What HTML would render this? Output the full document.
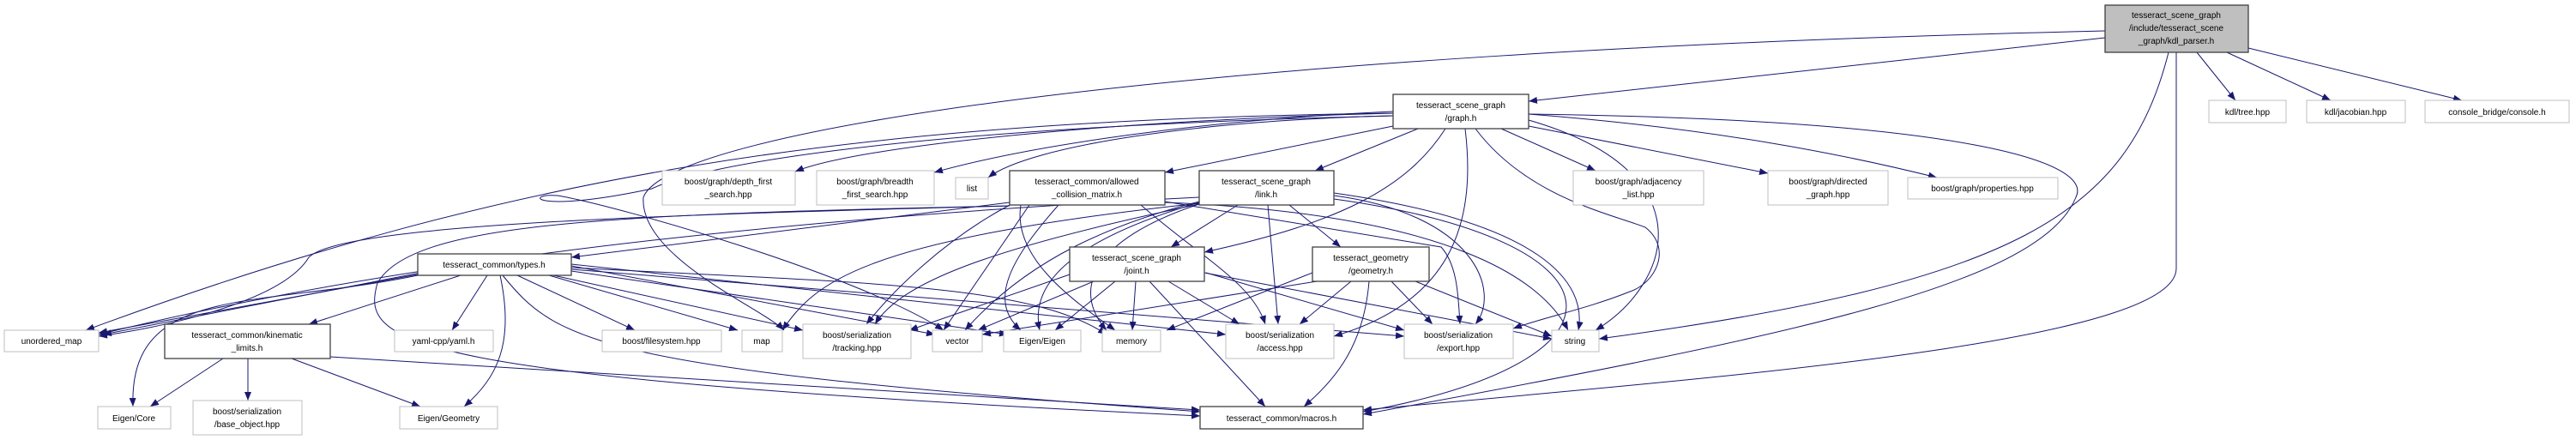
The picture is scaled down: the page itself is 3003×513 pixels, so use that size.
<!DOCTYPE html>
<html><head><meta charset="utf-8"><style>
html,body{margin:0;padding:0;background:#fff}
svg{display:block}
text{font-family:"Liberation Sans",sans-serif;font-size:10px;fill:#000}
.e{fill:none;stroke:#191970;stroke-width:1;marker-end:url(#a)}
.n{fill:#fff;stroke:#404040;stroke-width:1.3}
.x{fill:#fff;stroke:#bfbfbf;stroke-width:1}
</style></head><body>
<svg width="3003" height="513" viewBox="0 0 3003 513" xmlns="http://www.w3.org/2000/svg">
<defs><marker id="a" markerUnits="userSpaceOnUse" markerWidth="10" markerHeight="8" refX="10" refY="4" orient="auto"><path d="M0,0 L10,4 L0,8 Z" fill="#191970"/></marker></defs>
<g>
<path class="e" d="M2454,44 L1782,118"/>
<path class="e" d="M2454,36 C1400,60 780,150 750,230 C745,300 890,360 914,385"/>
<path class="e" d="M2528,61 C2480,250 2350,330 1864,395"/>
<path class="e" d="M2537,61 L2537,313 C2537,400 2000,440 1589,478"/>
<path class="e" d="M2561,61 L2606,117"/>
<path class="e" d="M2596,61 L2717,117"/>
<path class="e" d="M2621,56 L2870,117"/>
<path class="e" d="M1653,150 L1533,199"/>
<path class="e" d="M1624,147 L1358,201"/>
<path class="e" d="M1685,150 C1640,220 1560,260 1404,294"/>
<path class="e" d="M1708,150 C1720,250 1700,350 1555,392"/>
<path class="e" d="M1720,150 C1780,230 1880,250 1918,265 C1950,290 1930,330 1900,340 C1850,360 1800,370 1764,383"/>
<path class="e" d="M1750,150 L1860,199"/>
<path class="e" d="M1782,140 C1990,200 1950,330 1860,385"/>
<path class="e" d="M1782,147 L2061,202"/>
<path class="e" d="M1782,133 C2000,150 2150,180 2258,207"/>
<path class="e" d="M1782,133 C2300,140 2440,190 2420,230 C2380,330 2100,390 1589,483"/>
<path class="e" d="M1624,135 C1400,140 1200,170 1152,207"/>
<path class="e" d="M1624,130 C1400,140 1200,170 1089,201"/>
<path class="e" d="M1624,132 C1300,140 1000,170 927,200"/>
<path class="e" d="M1624,132 C1000,140 600,200 100,385"/>
<path class="e" d="M1624,135 C1000,150 800,200 760,220 C620,250 610,225 650,228 C720,240 1000,320 1100,385"/>
<path class="e" d="M1177,236 L666,300"/>
<path class="e" d="M1177,240 C800,250 400,260 360,300 C330,350 200,380 115,392"/>
<path class="e" d="M1177,240 C700,250 480,260 440,330 C420,400 460,440 1399,485"/>
<path class="e" d="M1200,239 L1100,385"/>
<path class="e" d="M1234,239 C1180,300 1150,350 1190,385"/>
<path class="e" d="M1190,239 C1180,300 1250,350 1300,385"/>
<path class="e" d="M1330,239 C1400,300 1460,330 1475,378"/>
<path class="e" d="M1358,235 L1680,288 C1700,310 1700,350 1702,378"/>
<path class="e" d="M1358,236 C1700,250 1800,330 1828,385"/>
<path class="e" d="M1177,239 C1100,280 1040,340 1010,378"/>
<path class="e" d="M1443,239 L1365,288"/>
<path class="e" d="M1503,239 L1563,288"/>
<path class="e" d="M1478,239 L1490,378"/>
<path class="e" d="M1555,228 C1720,250 1750,340 1720,378"/>
<path class="e" d="M1555,225 C1800,260 1850,330 1840,385"/>
<path class="e" d="M1555,232 C1900,280 1920,420 1589,480"/>
<path class="e" d="M1398,235 C1300,260 1200,300 1125,385"/>
<path class="e" d="M1398,236 C1250,280 1200,330 1212,385"/>
<path class="e" d="M1398,238 C1270,280 1250,340 1290,385"/>
<path class="e" d="M1398,230 C800,260 400,320 115,390"/>
<path class="e" d="M1398,238 C1150,290 1050,330 1020,378"/>
<path class="e" d="M1398,237 C1000,280 950,330 912,385"/>
<path class="e" d="M1275,328 L1140,385"/>
<path class="e" d="M1300,328 L1230,385"/>
<path class="e" d="M1324,328 L1320,385"/>
<path class="e" d="M1362,328 L1445,378"/>
<path class="e" d="M1406,318 L1637,385"/>
<path class="e" d="M1404,318 L1809,395"/>
<path class="e" d="M1340,328 L1475,474"/>
<path class="e" d="M1247,320 L1060,385"/>
<path class="e" d="M1530,318 L1360,385"/>
<path class="e" d="M1575,328 L1515,378"/>
<path class="e" d="M1622,328 L1670,378"/>
<path class="e" d="M1650,328 L1809,392"/>
<path class="e" d="M1596,328 C1590,400 1560,440 1520,474"/>
<path class="e" d="M1535,328 L1145,390"/>
<path class="e" d="M487,320 L115,388"/>
<path class="e" d="M490,318 L120,390"/>
<path class="e" d="M537,321 L360,378"/>
<path class="e" d="M568,321 L527,385"/>
<path class="e" d="M583,321 C600,400 580,440 541,474"/>
<path class="e" d="M487,321 C300,360 150,330 155,474"/>
<path class="e" d="M603,321 L740,385"/>
<path class="e" d="M640,321 L860,385"/>
<path class="e" d="M645,321 L936,385"/>
<path class="e" d="M666,310 L1090,390"/>
<path class="e" d="M666,312 C1000,330 1200,330 1290,390"/>
<path class="e" d="M666,308 L1429,390"/>
<path class="e" d="M666,314 L1637,392"/>
<path class="e" d="M666,316 L1175,390"/>
<path class="e" d="M586,321 C650,400 700,430 1399,480"/>
<path class="e" d="M260,418 L175,474"/>
<path class="e" d="M289,418 L289,467"/>
<path class="e" d="M340,418 L490,474"/>
<path class="e" d="M385,416 L1399,478"/>
</g>
<g>
<rect x="2454" y="6" width="167" height="55" fill="#bfbfbf" stroke="#404040" stroke-width="1.3"/>
<text x="2537" y="21" text-anchor="middle">tesseract_scene_graph</text>
<text x="2537" y="36" text-anchor="middle">/include/tesseract_scene</text>
<text x="2537" y="51" text-anchor="middle">_graph/kdl_parser.h</text>
<rect class="n" x="1624" y="110" width="158" height="40"/>
<text x="1703" y="126" text-anchor="middle">tesseract_scene_graph</text>
<text x="1703" y="141" text-anchor="middle">/graph.h</text>
<rect class="x" x="2575" y="117" width="90" height="26"/><text x="2620" y="134" text-anchor="middle">kdl/tree.hpp</text>
<rect class="x" x="2689" y="117" width="115" height="26"/><text x="2746" y="134" text-anchor="middle">kdl/jacobian.hpp</text>
<rect class="x" x="2827" y="117" width="168" height="26"/><text x="2911" y="134" text-anchor="middle">console_bridge/console.h</text>
<rect class="x" x="772" y="199" width="155" height="40"/><text x="849" y="215" text-anchor="middle">boost/graph/depth_first</text><text x="849" y="230" text-anchor="middle">_search.hpp</text>
<rect class="x" x="952" y="199" width="137" height="40"/><text x="1020" y="215" text-anchor="middle">boost/graph/breadth</text><text x="1020" y="230" text-anchor="middle">_first_search.hpp</text>
<rect class="x" x="1114" y="207" width="38" height="25"/><text x="1133" y="223" text-anchor="middle">list</text>
<rect class="n" x="1177" y="199" width="181" height="40"/><text x="1267" y="215" text-anchor="middle">tesseract_common/allowed</text><text x="1267" y="230" text-anchor="middle">_collision_matrix.h</text>
<rect class="n" x="1398" y="199" width="157" height="40"/><text x="1476" y="215" text-anchor="middle">tesseract_scene_graph</text><text x="1476" y="230" text-anchor="middle">/link.h</text>
<rect class="x" x="1834" y="199" width="152" height="40"/><text x="1910" y="215" text-anchor="middle">boost/graph/adjacency</text><text x="1910" y="230" text-anchor="middle">_list.hpp</text>
<rect class="x" x="2061" y="199" width="140" height="40"/><text x="2131" y="215" text-anchor="middle">boost/graph/directed</text><text x="2131" y="230" text-anchor="middle">_graph.hpp</text>
<rect class="x" x="2224" y="207" width="175" height="25"/><text x="2311" y="223" text-anchor="middle">boost/graph/properties.hpp</text>
<rect class="n" x="487" y="296" width="179" height="25"/><text x="576" y="312" text-anchor="middle">tesseract_common/types.h</text>
<rect class="n" x="1247" y="288" width="157" height="40"/><text x="1325" y="304" text-anchor="middle">tesseract_scene_graph</text><text x="1325" y="319" text-anchor="middle">/joint.h</text>
<rect class="n" x="1530" y="288" width="136" height="40"/><text x="1598" y="304" text-anchor="middle">tesseract_geometry</text><text x="1598" y="319" text-anchor="middle">/geometry.h</text>
<rect class="x" x="5" y="385" width="110" height="25"/><text x="60" y="401" text-anchor="middle">unordered_map</text>
<rect class="n" x="192" y="378" width="193" height="40"/><text x="288" y="394" text-anchor="middle">tesseract_common/kinematic</text><text x="288" y="409" text-anchor="middle">_limits.h</text>
<rect class="x" x="460" y="385" width="115" height="25"/><text x="517" y="401" text-anchor="middle">yaml-cpp/yaml.h</text>
<rect class="x" x="702" y="385" width="139" height="25"/><text x="771" y="401" text-anchor="middle">boost/filesystem.hpp</text>
<rect class="x" x="865" y="385" width="47" height="25"/><text x="888" y="401" text-anchor="middle">map</text>
<rect class="x" x="936" y="378" width="126" height="40"/><text x="999" y="394" text-anchor="middle">boost/serialization</text><text x="999" y="409" text-anchor="middle">/tracking.hpp</text>
<rect class="x" x="1087" y="385" width="58" height="25"/><text x="1116" y="401" text-anchor="middle">vector</text>
<rect class="x" x="1170" y="385" width="90" height="25"/><text x="1215" y="401" text-anchor="middle">Eigen/Eigen</text>
<rect class="x" x="1285" y="385" width="68" height="25"/><text x="1319" y="401" text-anchor="middle">memory</text>
<rect class="x" x="1429" y="378" width="126" height="40"/><text x="1492" y="394" text-anchor="middle">boost/serialization</text><text x="1492" y="409" text-anchor="middle">/access.hpp</text>
<rect class="x" x="1637" y="378" width="127" height="40"/><text x="1700" y="394" text-anchor="middle">boost/serialization</text><text x="1700" y="409" text-anchor="middle">/export.hpp</text>
<rect class="x" x="1809" y="385" width="55" height="25"/><text x="1836" y="401" text-anchor="middle">string</text>
<rect class="x" x="114" y="474" width="85" height="26"/><text x="156" y="491" text-anchor="middle">Eigen/Core</text>
<rect class="x" x="225" y="467" width="127" height="40"/><text x="288" y="483" text-anchor="middle">boost/serialization</text><text x="288" y="498" text-anchor="middle">/base_object.hpp</text>
<rect class="x" x="466" y="474" width="114" height="26"/><text x="523" y="491" text-anchor="middle">Eigen/Geometry</text>
<rect class="n" x="1399" y="474" width="190" height="26"/><text x="1494" y="491" text-anchor="middle">tesseract_common/macros.h</text>
</g>
</svg>
</body></html>
